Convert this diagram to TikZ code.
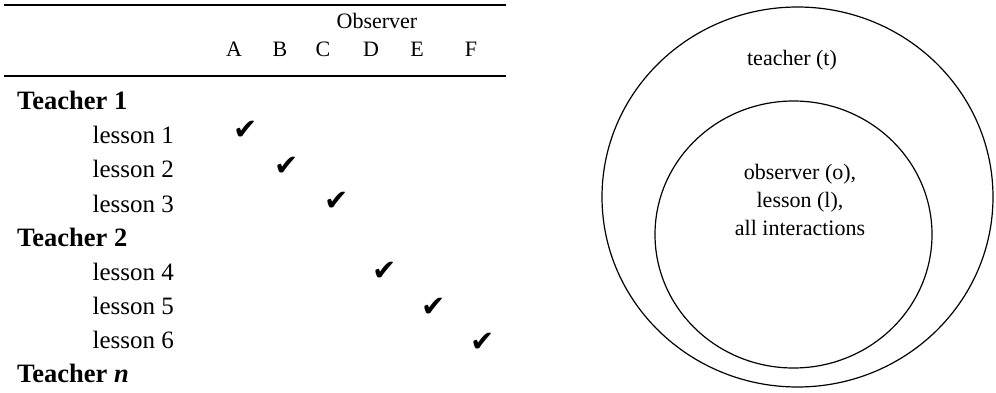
\documentclass[tikz,border=0pt]{standalone}
\usepackage{fontspec}
\setmainfont{Liberation Serif}
\newfontfamily\tickfont{DejaVu Sans}
\usepackage{xcolor}
\usepackage{tikz}
\usetikzlibrary{positioning}

\tikzset{
    headtext/.style={font=\fontsize{22}{26}\selectfont, inner sep=0pt, anchor=base},
    rowtext/.style={font=\fontsize{25}{29}\selectfont, inner sep=0pt, anchor=base},
    teacherrow/.style={rowtext, font=\fontsize{26.5}{30}\selectfont\bfseries, anchor=base west},
    lessonrow/.style={rowtext, anchor=base east},
    tick/.style={font=\fontsize{29}{30}\tickfont, inner sep=0pt},
    ringtext/.style={font=\fontsize{22}{28}\selectfont, align=center, inner sep=0pt}
}

\begin{document}
\begin{tikzpicture}[x=1pt, y=-1pt]
    \useasboundingbox (0,0) rectangle (996,393);

    % 1. Table rules
    \draw[line width=1.6pt] (4,5) -- (506,5);
    \draw[line width=1.6pt] (4,76) -- (506,76);

    % 2. Header
    \node[headtext] (obs) at (377,29) {Observer};
    \node[headtext] (colA) at (234,57) {A};
    \node[headtext] (colB) at (280,57) {B};
    \node[headtext] (colC) at (323,57) {C};
    \node[headtext] (colD) at (371,57) {D};
    \node[headtext] (colE) at (417,57) {E};
    \node[headtext] (colF) at (471,57) {F};

    % 3. Row labels
    \node[teacherrow] (t1) at (17,110) {Teacher 1};
    \node[lessonrow] (l1) at (174,144) {lesson 1};
    \node[lessonrow] (l2) at (174,178) {lesson 2};
    \node[lessonrow] (l3) at (174,212) {lesson 3};
    \node[teacherrow] (t2) at (17,246) {Teacher 2};
    \node[lessonrow] (l4) at (174,280) {lesson 4};
    \node[lessonrow] (l5) at (174,314) {lesson 5};
    \node[lessonrow] (l6) at (174,348) {lesson 6};
    \node[teacherrow] (tn) at (17,382) {Teacher \textit{n}};

    % 4. Ticks (one observer per lesson)
    \node[tick] (k1) at (246,130) {✔};
    \node[tick] (k2) at (287,166) {✔};
    \node[tick] (k3) at (337,201) {✔};
    \node[tick] (k4) at (385,271) {✔};
    \node[tick] (k5) at (434,307) {✔};
    \node[tick] (k6) at (483,342) {✔};

    % 5. Nested levels
    \draw[line width=1.2pt] (797.5,197) ellipse (195.5 and 190);
    \draw[line width=1.2pt] (793.5,234.5) ellipse (138.5 and 133.5);
    \node[ringtext] (teach) at (792,60) {teacher (t)};
    \node[ringtext] (inner) at (800,200) {observer (o),\\lesson (l),\\all interactions};

\end{tikzpicture}
\end{document}
